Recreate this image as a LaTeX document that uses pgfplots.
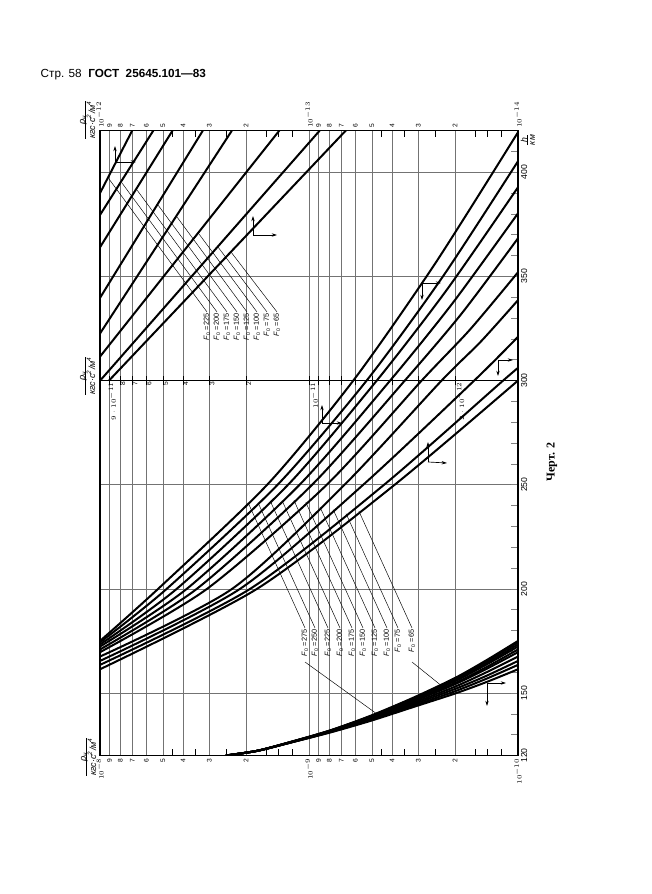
\documentclass[border=0pt]{standalone}
\usepackage{pgfplots}
\pgfplotsset{compat=1.18}
\usepackage{fontspec}
\setmainfont{Liberation Sans}
\newfontfamily\serifcyr{Liberation Serif}
\usetikzlibrary{arrows.meta}
\newcommand\rholab{\begin{tabular}{@{}c@{}}\textit{ρ}\textsubscript{\textit{н}}\\[-2pt]\hline\rule{0pt}{7pt}\textit{кгс·с\textsuperscript{2}/м\textsuperscript{4}}\end{tabular}}
\newcommand\Fo[1]{\textit{F}\textsubscript{0}\,=\,#1}
\tikzset{sl/.style={rotate=90, anchor=east, font=\fontsize{5}{6}\selectfont, inner sep=1pt},
  ar/.style={line width=0.5pt,-{Stealth[length=4pt,width=2.5pt]}}}
\begin{document}
\begin{tikzpicture}
\path[use as bounding box] (0pt,0pt) rectangle (488.25pt,670.5pt);
% ---------------- bottom scale (10^-8 ... 10^-10), frame and grid
\begin{axis}[scale only axis, width=313.5pt, height=468.7pt, at={(75pt,103.875pt)}, anchor=south west,
  xmode=log, x dir=reverse, ymin=120, ymax=420, xmin=1e-10, xmax=1e-8,
  axis line style={line width=0.8pt},
  xtick={1e-8,9e-9,8e-9,7e-9,6e-9,5e-9,4e-9,3e-9,2e-9,1e-9,9e-10,8e-10,7e-10,6e-10,5e-10,4e-10,3e-10,2e-10,1e-10},
  xticklabels={$10^{-8}$,9,8,7,6,5,4,3,2,$10^{-9}$,9,8,7,6,5,4,3,2,$10^{-10}$},
  xticklabel style={rotate=90, anchor=east, font=\fontsize{5}{6}\selectfont, inner sep=2pt},
  xmajorgrids, ymajorgrids,
  major grid style={black!55, line width=0.35pt},
  ytick={120,150,200,250,300,350,400},
  yticklabels={120,150,200,250,300,350,400},
  yticklabel pos=right, ytick pos=right,
  yticklabel style={rotate=90, anchor=north, font=\fontsize{6.5}{7}\selectfont, inner sep=2pt},
  minor ytick={130,140,...,410},
  tick align=inside, minor tick length=5pt, major tick length=0pt,
  minor tick style={line width=0.5pt},
]
\draw[line width=0.7pt] (axis cs:1e-8,300) -- (axis cs:1e-10,300);
\pgfplotsinvokeforeach{4.5e-9,3.5e-9,2.5e-9,1.6e-9,1.4e-9,1.2e-9,4.5e-10,3.5e-10,2.5e-10,1.6e-10,1.4e-10,1.2e-10}{
  \draw[line width=0.5pt] (axis cs:#1,120) -- ([yshift=5pt]axis cs:#1,120);
  \draw[line width=0.5pt] (axis cs:#1,420) -- ([yshift=-5pt]axis cs:#1,420);}
% F0 = 275 ... 65
\addplot[black, line width=1.5pt, smooth, tension=0.45, no marks] coordinates {(2.5e-9,120)(1.778e-9,122.2)(1.259e-9,126.2)(7.943e-10,132.0)(5.012e-10,139.3)(3.162e-10,147.8)(1.995e-10,157.3)(1.413e-10,165.8)(1e-10,175.0)};
\addplot[black, line width=1.5pt, smooth, tension=0.45, no marks] coordinates {(2.5e-9,120)(1.778e-9,122.2)(1.259e-9,126.1)(7.943e-10,132.0)(5.012e-10,139.1)(3.162e-10,147.5)(1.995e-10,156.9)(1.413e-10,165.2)(1e-10,174.3)};
\addplot[black, line width=1.5pt, smooth, tension=0.45, no marks] coordinates {(2.5e-9,120)(1.778e-9,122.2)(1.259e-9,126.1)(7.943e-10,131.9)(5.012e-10,138.9)(3.162e-10,147.2)(1.995e-10,156.3)(1.413e-10,164.4)(1e-10,173.3)};
\addplot[black, line width=1.5pt, smooth, tension=0.45, no marks] coordinates {(2.5e-9,120)(1.778e-9,122.2)(1.259e-9,126.1)(7.943e-10,131.8)(5.012e-10,138.8)(3.162e-10,146.9)(1.995e-10,155.8)(1.413e-10,163.7)(1e-10,172.3)};
\addplot[black, line width=1.5pt, smooth, tension=0.45, no marks] coordinates {(2.5e-9,120)(1.778e-9,122.2)(1.259e-9,126.1)(7.943e-10,131.7)(5.012e-10,138.5)(3.162e-10,146.4)(1.995e-10,154.9)(1.413e-10,162.5)(1e-10,170.9)};
\addplot[black, line width=1.5pt, smooth, tension=0.45, no marks] coordinates {(2.5e-9,120)(1.778e-9,122.2)(1.259e-9,126.0)(7.943e-10,131.6)(5.012e-10,138.3)(3.162e-10,146.0)(1.995e-10,154.3)(1.413e-10,161.6)(1e-10,169.6)};
\addplot[black, line width=1.5pt, smooth, tension=0.45, no marks] coordinates {(2.5e-9,120)(1.778e-9,122.2)(1.259e-9,126.0)(7.943e-10,131.5)(5.012e-10,137.9)(3.162e-10,145.3)(1.995e-10,153.1)(1.413e-10,160.0)(1e-10,167.5)};
\addplot[black, line width=1.5pt, smooth, tension=0.45, no marks] coordinates {(2.5e-9,120)(1.778e-9,122.2)(1.259e-9,125.9)(7.943e-10,131.3)(5.012e-10,137.5)(3.162e-10,144.6)(1.995e-10,152.0)(1.413e-10,158.3)(1e-10,165.4)};
\addplot[black, line width=1.5pt, smooth, tension=0.45, no marks] coordinates {(2.5e-9,120)(1.778e-9,122.2)(1.259e-9,125.9)(7.943e-10,131.2)(5.012e-10,137.1)(3.162e-10,143.9)(1.995e-10,150.9)(1.413e-10,156.9)(1e-10,163.5)};
\addplot[black, line width=1.5pt, smooth, tension=0.45, no marks] coordinates {(2.5e-9,120)(1.778e-9,122.2)(1.259e-9,125.9)(7.943e-10,131.0)(5.012e-10,136.8)(3.162e-10,143.3)(1.995e-10,149.8)(1.413e-10,155.3)(1e-10,161.4)};
\end{axis}
% ---------------- middle scale (10^-10 ... 10^-12)
\begin{axis}[scale only axis, width=313.5pt, height=468.7pt, at={(75pt,103.875pt)}, anchor=south west,
  xmode=log, x dir=reverse, ymin=120, ymax=420, xmin=1e-12, xmax=1e-10, hide axis]
\pgfplotsinvokeforeach{9e-11,8e-11,7e-11,6e-11,5e-11,4e-11,3e-11,2e-11,1e-11,9e-12,8e-12,7e-12,6e-12,5e-12,4e-12,3e-12,2e-12}{
  \draw[line width=0.5pt] ([yshift=-3.5pt]axis cs:#1,300) -- ([yshift=3.5pt]axis cs:#1,300);}
\node[sl,yshift=-2pt] at (axis cs:9e-11,300) {$9\cdot10^{-11}$};
\node[sl,yshift=-2pt] at (axis cs:8e-11,300) {8};
\node[sl,yshift=-2pt] at (axis cs:7e-11,300) {7};
\node[sl,yshift=-2pt] at (axis cs:6e-11,300) {6};
\node[sl,yshift=-2pt] at (axis cs:5e-11,300) {5};
\node[sl,yshift=-2pt] at (axis cs:4e-11,300) {4};
\node[sl,yshift=-2pt] at (axis cs:3e-11,300) {3};
\node[sl,yshift=-2pt] at (axis cs:2e-11,300) {2};
\node[sl,yshift=-4pt] at (axis cs:1e-11,300) {$10^{-11}$};
\node[sl,yshift=-4pt] at (axis cs:2e-12,300) {$2\cdot10^{-12}$};
\addplot[black, line width=1.5pt, smooth, tension=0.45, no marks] coordinates {(1e-10,175.0)(5.272e-11,200)(1.585e-11,250)(6.14e-12,300)(2.51e-12,355.7)(1e-12,419.2)};
\addplot[black, line width=1.5pt, smooth, tension=0.45, no marks] coordinates {(1e-10,174.3)(4.797e-11,200)(1.413e-11,250)(5.30e-12,300)(2.29e-12,349.9)(1e-12,405.3)};
\addplot[black, line width=1.5pt, smooth, tension=0.45, no marks] coordinates {(1e-10,173.3)(4.295e-11,200)(1.259e-11,250)(4.74e-12,300)(2.19e-12,343.6)(1e-12,392.8)};
\addplot[black, line width=1.5pt, smooth, tension=0.45, no marks] coordinates {(1e-10,172.3)(3.846e-11,200)(1.109e-11,250)(4.09e-12,300)(2.04e-12,337.6)(1e-12,380.3)};
\addplot[black, line width=1.5pt, smooth, tension=0.45, no marks] coordinates {(1e-10,170.9)(3.443e-11,200)(9.66e-12,250)(3.48e-12,300)(1.86e-12,332.2)(1e-12,368.3)};
\addplot[black, line width=1.5pt, smooth, tension=0.45, no marks] coordinates {(1e-10,169.6)(3.076e-11,200)(8.22e-12,250)(2.89e-12,300)(1.70e-12,324.4)(1e-12,352.0)};
\addplot[black, line width=1.5pt, smooth, tension=0.45, no marks] coordinates {(1e-10,167.5)(2.333e-11,200)(6.76e-12,250)(2.32e-12,300)(1.51e-12,318.6)(1e-12,338.6)};
\addplot[black, line width=1.5pt, smooth, tension=0.45, no marks] coordinates {(1e-10,165.4)(2.138e-11,200)(5.50e-12,250)(1.62e-12,300)(1e-12,321)};
\addplot[black, line width=1.5pt, smooth, tension=0.45, no marks] coordinates {(1e-10,163.5)(1.914e-11,200)(4.37e-12,250)(1.178e-12,300)(1e-12,306)};
\addplot[black, line width=1.5pt, smooth, tension=0.45, no marks] coordinates {(1e-10,161.4)(1.774e-11,200)(3.89e-12,250)(1e-12,300)};
\end{axis}
% ---------------- top scale (10^-12 ... 10^-14)
\begin{axis}[scale only axis, width=313.5pt, height=468.7pt, at={(75pt,103.875pt)}, anchor=south west,
  xmode=log, x dir=reverse, ymin=120, ymax=420, xmin=1e-14, xmax=1e-12,
  axis line style={draw=none}, ytick=\empty,
  xtick={1e-12,9e-13,8e-13,7e-13,6e-13,5e-13,4e-13,3e-13,2e-13,1e-13,9e-14,8e-14,7e-14,6e-14,5e-14,4e-14,3e-14,2e-14,1e-14},
  xticklabels={$10^{-12}$,9,8,7,6,5,4,3,2,$10^{-13}$,9,8,7,6,5,4,3,2,$10^{-14}$},
  xticklabel pos=right, xtick pos=right, major tick length=0pt,
  xticklabel style={rotate=90, anchor=west, font=\fontsize{5}{6}\selectfont, inner sep=2pt},
]
\addplot[black, line width=1.5pt, no marks] coordinates {(1e-12,390)(7.015e-13,420)};
\addplot[black, line width=1.5pt, no marks] coordinates {(1e-12,379.5)(5.559e-13,420)};
\addplot[black, line width=1.5pt, no marks] coordinates {(1e-12,364)(4.498e-13,420)};
\addplot[black, line width=1.5pt, no marks] coordinates {(1e-12,339.7)(3.221e-13,420)};
\addplot[black, line width=1.5pt, no marks] coordinates {(1e-12,322.6)(2.339e-13,420)};
\addplot[black, line width=1.5pt, no marks] coordinates {(1e-12,311.5)(1.387e-13,420)};
\addplot[black, line width=1.5pt, no marks] coordinates {(9.886e-13,300.5)(8.89e-14,420)};
\addplot[black, line width=1.5pt, no marks] coordinates {(9.057e-13,300)(6.67e-14,420)};
\end{axis}
% ---------------- annotations in page pixel coordinates
\begin{scope}[x=0.75pt, y=-0.75pt, shift={(0pt,670.5pt)}]
\node[anchor=west, font=\fontsize{8.8}{10}\selectfont] at (36,75) {Стр. 58 \ \textbf{ГОСТ \ 25645.101—83}};
\node[rotate=90, font=\serifcyr\bfseries\fontsize{9}{10}\selectfont] at (552,462) {Черт. 2};
\node[rotate=90, font=\fontsize{6.8}{7.5}\selectfont, inner sep=0pt] at (88,120) {\rholab};
\node[rotate=90, font=\fontsize{6.8}{7.5}\selectfont, inner sep=0pt] at (88,376) {\rholab};
\node[rotate=90, font=\fontsize{6.8}{7.5}\selectfont, inner sep=0pt] at (89,757) {\rholab};
\node[rotate=90, font=\fontsize{6.5}{7.5}\selectfont, inner sep=0pt] at (529,140) {\begin{tabular}{@{}c@{}}\textit{h}\\[-2pt]\hline\textit{км}\end{tabular}};
% labels of the upper family
\foreach \xx/\ff in {207/225,217/200,227/175,237/150,247/125,257/100,267/75,277/65}
  \node[rotate=90, anchor=east, font=\fontsize{5.5}{6}\selectfont, inner sep=0.5pt] at (\xx,312) {\Fo{\ff}};
\draw[line width=0.35pt] (207,312)--(109,179) (217,312)--(122,183) (227,312)--(137,190) (237,312)--(158,205)
  (247,312)--(177,217) (257,312)--(199,234) (267,312)--(218,247) (277,312)--(231,252);
% labels of the middle family
\foreach \xx/\ff in {305/275,315/250,328/225,340/200,352/175,363/150,375/125,387/100,398/75,412/65}
  \node[rotate=90, anchor=east, font=\fontsize{5.5}{6}\selectfont, inner sep=0.5pt] at (\xx,628) {\Fo{\ff}};
\draw[line width=0.35pt] (305,628)--(248,502.5) (315,628)--(258,502.6) (328,628)--(270.2,500.9) (340,628)--(282,500.4)
  (352,628)--(294,500.5) (363,628)--(305.8,502.3) (375,628)--(319.9,506.9) (387,628)--(333.2,509.6) (398,628)--(346.1,513.7) (412,628)--(358.9,511.2);
\draw[line width=0.35pt] (305,662)--(377,714) (412,662)--(453,695);
% arrows
\draw[ar] (115,162)--(115,146); \draw[ar] (115,162)--(136,162);
\draw[ar] (253,235)--(253,216); \draw[ar] (253,235)--(277,235);
\draw[ar] (322,423)--(322,405); \draw[ar] (322,423)--(342,423);
\draw[ar] (428,462)--(428,442); \draw[ar] (428,462)--(447,463);
\draw[ar] (422,283)--(422,300); \draw[ar] (422,283)--(441,283);
\draw[ar] (498,360)--(513,360); \draw[ar] (498,360)--(498,376);
\draw[ar] (487,683)--(506,683); \draw[ar] (487,683)--(487,706);
\end{scope}
\end{tikzpicture}
\end{document}
